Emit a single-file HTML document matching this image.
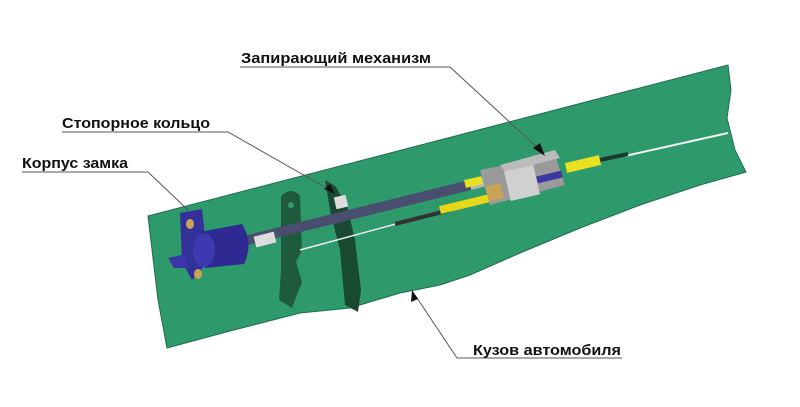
<!DOCTYPE html>
<html><head><meta charset="utf-8"><style>
html,body{margin:0;padding:0;background:#fff;width:800px;height:407px;overflow:hidden}
text{font-family:"Liberation Sans",sans-serif;font-size:15px;fill:#111;}
</style></head><body>
<svg width="800" height="407" viewBox="0 0 800 407" xmlns="http://www.w3.org/2000/svg">
<path d="M148,216 L728,65 L731,90 L727,118 L735,150 L746,172 L700,185 L640,205 L580,228 L520,253 L470,275 L440,285 L400,293 L350,308 L300,313 L230,331 L167,348 L158,300 Z" fill="#2e9a6c" stroke="#1f6e4c" stroke-width="1"/>
<line x1="625" y1="156" x2="728" y2="133" stroke="#f4f4f4" stroke-width="2"/>
<path d="M281,196 Q292,186 300,196 L302,250 L296,262 L302,282 L292,308 L279,300 L281,270 Z" fill="#1e5a3c"/>
<circle cx="291" cy="205" r="3" fill="#2e9a6c"/>
<path d="M325,180 L335,186 L347,205 L355,240 L361,290 L358,312 L345,305 L340,250 L331,215 Z" fill="#174a31"/>
<line x1="240" y1="242" x2="470" y2="185" stroke="#4a4e6e" stroke-width="10"/>
<line x1="470" y1="185" x2="490" y2="180" stroke="#b7b7b7" stroke-width="10"/>
<rect x="335" y="196" width="12" height="12" fill="#ddd" transform="rotate(-13 341 202)"/>
<line x1="255" y1="242" x2="275" y2="237" stroke="#ddd" stroke-width="11"/>
<line x1="300" y1="250" x2="440" y2="212" stroke="#eee" stroke-width="1.5"/>
<line x1="395" y1="224" x2="450" y2="210" stroke="#333" stroke-width="4"/>
<line x1="440" y1="210" x2="490" y2="198" stroke="#e6d818" stroke-width="8"/>
<path d="M480,170 L555,155 L565,185 L490,205 Z" fill="#9a9a9a"/>
<path d="M500,165 L555,150 L560,158 L505,172 Z" fill="#bbb"/>
<rect x="507" y="168" width="30" height="30" fill="#d0d0d0" transform="rotate(-13 522 183)"/>
<rect x="487" y="185" width="15" height="15" fill="#c9a455" transform="rotate(-13 494 192)"/>
<line x1="537" y1="180" x2="562" y2="174" stroke="#3b36a0" stroke-width="7"/>
<line x1="566" y1="168" x2="600" y2="160" stroke="#e8e020" stroke-width="10"/>
<line x1="600" y1="160" x2="628" y2="154" stroke="#1b3a2c" stroke-width="4"/>
<line x1="465" y1="184" x2="482" y2="180" stroke="#e8e020" stroke-width="8"/>
<path d="M180,213 L202,209 L208,262 L192,280 L182,262 Z" fill="#33309a"/>
<ellipse cx="190" cy="224" rx="4" ry="5" fill="#c9a455"/>
<ellipse cx="198" cy="274" rx="4" ry="5" fill="#c9a455"/>
<path d="M200,232 L242,224 Q254,243 244,264 L205,268 Z" fill="#2e2a92"/>
<ellipse cx="204" cy="250" rx="11" ry="17" fill="#3d39b0"/>
<path d="M168,258 L186,254 L188,268 L174,268 Z" fill="#3a36a8"/>
<g stroke="#555" stroke-width="1" fill="none">
<path d="M240,67 L450,67 L540,150"/>
<path d="M62,132 L228,132 L330,190"/>
<path d="M22,172 L148,172 L188,210"/>
<path d="M622,358 L457,358 L415,295"/>
</g>
<g fill="#111">
<path d="M545,156 L533,148 L540,143 Z"/>
<path d="M335,194 L324,189 L330,184 Z"/>
<path d="M412,290 L411,302 L418,299 Z"/>
</g>
<text x="241" y="63" textLength="190" font-weight="bold" lengthAdjust="spacingAndGlyphs">Запирающий механизм</text>
<text x="62" y="128" textLength="148" font-weight="bold" lengthAdjust="spacingAndGlyphs">Стопорное кольцо</text>
<text x="22" y="168" textLength="106" font-weight="bold" lengthAdjust="spacingAndGlyphs">Корпус замка</text>
<text x="473" y="355" textLength="148" font-weight="bold" lengthAdjust="spacingAndGlyphs">Кузов автомобиля</text>
</svg>
</body></html>
